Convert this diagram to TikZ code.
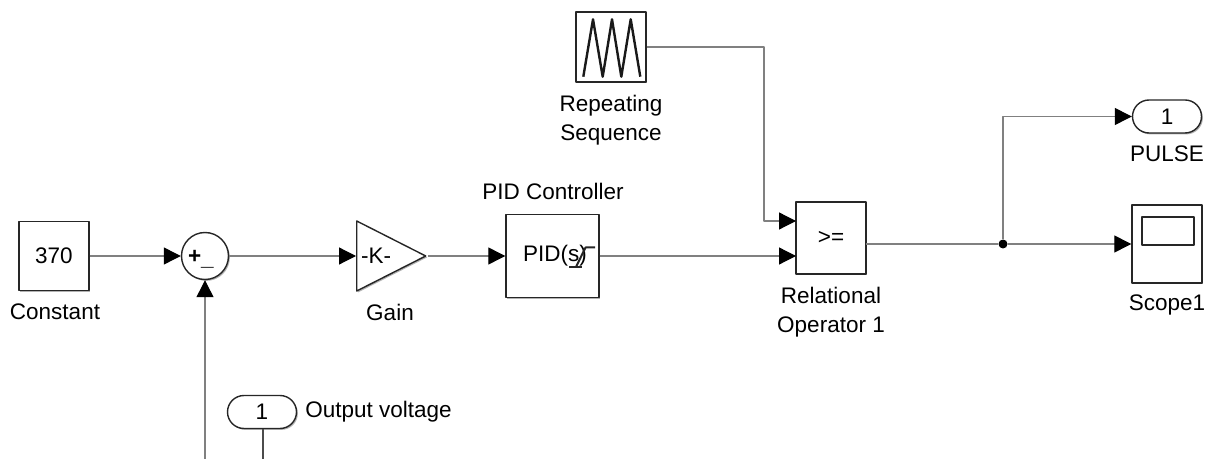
\documentclass[tikz,border=0pt]{standalone}
\usepackage{fontspec}
\setmainfont{Liberation Sans}
\usetikzlibrary{arrows.meta, shapes.geometric, shapes.misc, shadows}

\tikzset{
    simshadow/.style={drop shadow={shadow xshift=0.7pt, shadow yshift=-0.7pt, opacity=0.3, fill=black}},
    simblock/.style={draw=black!85, line width=0.7pt, fill=white, rectangle, inner sep=0pt, simshadow},
    simport/.style={draw=black!85, line width=0.7pt, fill=white, rounded rectangle, inner sep=0pt, minimum width=34.5pt, minimum height=16.5pt, simshadow},
    simlabel/.style={inner sep=0pt, align=center},
    signal/.style={draw=black!50, line width=0.6pt},
    signalarrow/.style={signal, -{Triangle[length=8.5pt, width=8.5pt, black]}},
}

\begin{document}
\begin{tikzpicture}[x=0.5pt, y=-0.5pt, font=\fontsize{11.25}{14.5}\selectfont, line join=round]

    \useasboundingbox (0,0) rectangle (1214,459);

    % Free ends and ports
    \coordinate (fbk)    at (205,459);
    \coordinate (volt)   at (263,459);
    \coordinate (bend)   at (764,221);
    \coordinate (relin1) at (796,221);
    \coordinate (relin2) at (796,256);
    \coordinate (relout) at (866,244);

    % Signal lines go first, blocks sit on top of them
    \node[simblock, minimum width=35pt, minimum height=34.5pt] (const) at (54,256) {370};
    \node[simblock, circle, minimum size=23.5pt] (sum) at (205,256) {};
    \node[simblock, isosceles triangle, isosceles triangle stretches, shape border rotate=0,
          minimum width=35pt, minimum height=34.5pt, anchor=lower side] (gain) at (356,256) {};
    \node[simblock, minimum width=46.5pt, minimum height=41.5pt] (pid) at (552.5,256) {};
    \node[simblock, minimum width=35pt, minimum height=35pt] (rep) at (611,47) {};
    \node[simblock, minimum width=35pt, minimum height=36pt] (rel) at (831,238) {>=};
    \node[simport] (pulse) at (1167,116.5) {1};
    \node[simblock, minimum width=35pt, minimum height=39pt] (scope) at (1167,244) {};
    \node[simport] (outv) at (262,412) {1};
    \node[circle, fill=black, inner sep=0pt, minimum size=4.5pt] (dot) at (1003,244) {};

    % Block contents
    \node[inner sep=0pt] (sumtext) at (201,259) {\textbf{+}\raisebox{-1pt}{\textbf{\_}}};
    \node[inner sep=0pt] (gaintext) at (376,256) {-K-};
    \node[inner sep=0pt] (pidtext) at (555,256) {PID(s)};
    \node[draw=black!85, line width=1pt, inner sep=0pt, minimum width=26pt, minimum height=14pt] (screen) at (1168,231) {};

    % Step mark over the PID text
    \draw[black!85, line width=0.8pt] (569,267) -- (582,267);
    \draw[black!85, line width=1pt] (576,267) -- (585.5,247.5) -- (595,247.5);

    % Sawtooth
    \draw[black!90, line width=1.2pt] (583.3,76.7) -- (593,19.3) -- (602.7,76.7) -- (612,19.3)
        -- (621.3,76.7) -- (630.7,19.3) -- (640.3,76.7);

    % Connectors
    \draw[signalarrow] (const) -- (sum);
    \draw[signalarrow] (fbk) -- (sum);
    \draw[signalarrow] (sum) -- (gain.lower side);
    \draw[signalarrow] (gain.apex) -- (pid);
    \draw[signalarrow] (rep.east) -| (bend) -- (relin1);
    \draw[signalarrow] (pid) -- (relin2);
    \draw[signal] (relout) -- (dot);
    \draw[signalarrow] (dot) |- (pulse);
    \draw[signalarrow] (dot) -- (scope);
    \draw[signal, draw=black!70] (outv.south -| volt) -- (volt);

    % Labels
    \node[simlabel] (constname) at (55,312) {Constant};
    \node[simlabel] (gainname) at (390,312) {Gain};
    \node[simlabel] (pidname) at (553,191) {PID Controller};
    \node[simlabel] (repname) at (611,120) {Repeating\\[0pt]Sequence};
    \node[simlabel] (relname) at (831,312) {Relational\\[0pt]Operator 1};
    \node[simlabel] (pulsename) at (1167,154) {PULSE};
    \node[simlabel] (scopename) at (1167,305) {Scope1};
    \node[simlabel, anchor=west] (outvname) at (305,412) {Output voltage};

\end{tikzpicture}
\end{document}
